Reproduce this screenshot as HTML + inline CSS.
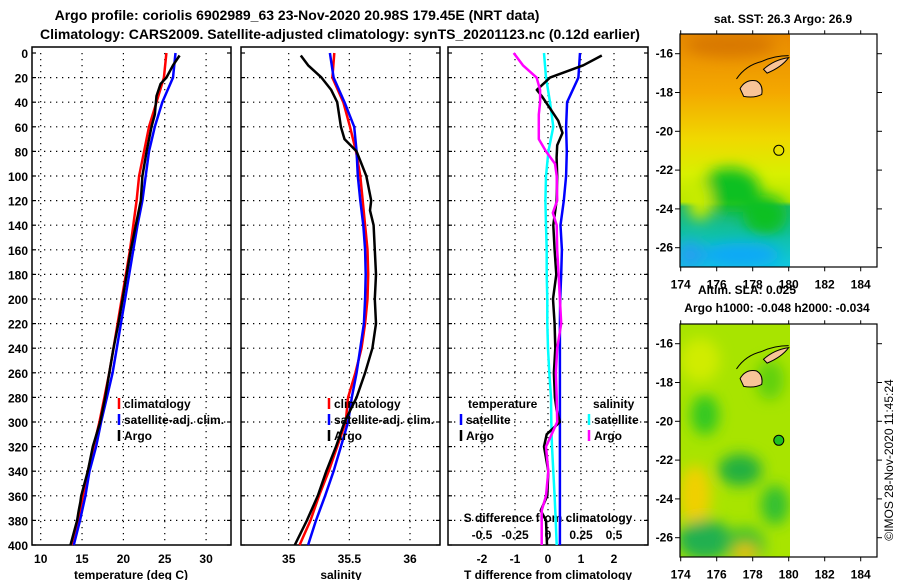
<!DOCTYPE html>
<html><head><meta charset="utf-8"><style>
html,body{margin:0;padding:0;background:#fff;}
svg{display:block;font-family:"Liberation Sans",sans-serif;font-weight:bold;}
</style></head><body>
<svg id="c" width="900" height="580" viewBox="0 0 900 580" xmlns="http://www.w3.org/2000/svg">
<defs>
<filter id="bl" x="-50%" y="-50%" width="200%" height="200%"><feGaussianBlur stdDeviation="7"/></filter>
<clipPath id="m1c"><rect x="680" y="34" width="110" height="233"/></clipPath>
<clipPath id="m2c"><rect x="680" y="324" width="110" height="233"/></clipPath>
<linearGradient id="sstg" x1="0" y1="0" x2="0" y2="1">
<stop offset="0" stop-color="#e88a00"/><stop offset="0.25" stop-color="#f4a800"/>
<stop offset="0.45" stop-color="#f0d800"/><stop offset="0.6" stop-color="#d8f000"/>
<stop offset="0.72" stop-color="#b8e800"/><stop offset="0.74" stop-color="#20b870"/>
<stop offset="0.85" stop-color="#10c0a0"/><stop offset="1" stop-color="#10c8e0"/>
</linearGradient>
</defs>
<g font-size="14">
<text x="297" y="20" text-anchor="middle">Argo profile: coriolis 6902989_63 23-Nov-2020 20.98S 179.45E (NRT data)</text>
<text x="340" y="39" text-anchor="middle">Climatology: CARS2009. Satellite-adjusted climatology: synTS_20201123.nc (0.12d earlier)</text>
</g>
<g id="panels"></g>

<g>
<text x="783" y="23" text-anchor="middle" font-size="12">sat. SST: 26.3 Argo: 26.9</text>
<g clip-path="url(#m1c)">
<rect x="680" y="34" width="110" height="233" fill="url(#sstg)"/>
<g filter="url(#bl)">
<ellipse cx="730" cy="190" rx="30" ry="22" fill="#10c020"/>
<ellipse cx="765" cy="215" rx="22" ry="20" fill="#10c020"/>
<ellipse cx="700" cy="200" rx="12" ry="20" fill="#c8ec00"/>
<ellipse cx="740" cy="255" rx="40" ry="12" fill="#10a8f8"/>
<ellipse cx="690" cy="255" rx="14" ry="14" fill="#20a0f0"/>
<ellipse cx="730" cy="45" rx="45" ry="12" fill="#d87800"/>
</g>
</g>
<rect x="680" y="34" width="197" height="233" fill="none" stroke="#000" stroke-width="1.2"/>
</g>

<g>
<text x="747" y="294" text-anchor="middle" font-size="12">Altim. SLA: 0.025</text>
<text x="777" y="312" text-anchor="middle" font-size="12">Argo h1000: -0.048 h2000: -0.034</text>
<g clip-path="url(#m2c)">
<rect x="680" y="324" width="110" height="233" fill="#a8e400"/>
<g filter="url(#bl)">
<ellipse cx="700" cy="360" rx="20" ry="22" fill="#d0ec00"/>
<ellipse cx="705" cy="415" rx="14" ry="20" fill="#30c820"/>
<ellipse cx="695" cy="495" rx="16" ry="30" fill="#f0d000"/>
<ellipse cx="740" cy="470" rx="22" ry="16" fill="#20b040"/>
<ellipse cx="775" cy="505" rx="14" ry="20" fill="#30c030"/>
<ellipse cx="705" cy="540" rx="28" ry="20" fill="#20b050"/>
<ellipse cx="745" cy="545" rx="20" ry="18" fill="#40c030"/>
<ellipse cx="745" cy="552" rx="12" ry="8" fill="#f0c000"/>
<ellipse cx="770" cy="380" rx="14" ry="20" fill="#60d010"/>
</g>
</g>
<rect x="680" y="324" width="197" height="233" fill="none" stroke="#000" stroke-width="1.2"/>
</g>
<text transform="translate(893,460) rotate(-90)" text-anchor="middle" font-size="12" font-weight="normal">©IMOS 28-Nov-2020 11:45:24</text>
</svg>
<script>
// ---- profile data ----
const depthStd = [0,20,40,60,80,100,120,140,160,180,200,220,240,260,280,300,320,340,360,380,400];
const climT = [25.2,24.9,24.0,23.1,22.5,21.9,21.6,21.2,20.8,20.3,19.8,19.3,18.8,18.3,17.7,17.1,16.4,15.7,15.1,14.5,13.7];
const satT = [26.3,26.0,24.7,23.8,23.1,22.7,22.3,21.7,21.2,20.7,20.2,19.7,19.2,18.7,18.0,17.3,16.7,15.9,15.4,14.75,14.0];
const argoTDepth = [2,10,20,25,35,50,60,80,100,120,140,160,180,200,220,240,260,280,300,320,340,360,365,372,380,400];
const argoT = [26.8,26.0,25.2,24.5,24.0,23.8,23.4,22.8,22.3,22.1,21.5,20.9,20.4,19.9,19.4,18.8,18.3,17.8,17.2,16.3,15.7,14.9,14.8,14.6,14.4,13.6];
const climS = [35.376,35.36,35.45,35.505,35.555,35.59,35.61,35.63,35.65,35.655,35.65,35.63,35.60,35.55,35.49,35.47,35.40,35.33,35.25,35.18,35.09];
const satS = [35.34,35.37,35.46,35.54,35.56,35.57,35.59,35.615,35.63,35.635,35.63,35.62,35.59,35.56,35.52,35.49,35.43,35.37,35.30,35.225,35.16];
const argoSDepth = [2,10,20,30,40,60,70,80,100,120,128,140,160,180,200,220,240,260,280,300,320,340,360,380,400];
const argoS = [35.10,35.16,35.27,35.35,35.40,35.43,35.46,35.56,35.64,35.68,35.67,35.70,35.71,35.72,35.71,35.72,35.69,35.63,35.56,35.46,35.39,35.31,35.24,35.15,35.05];
const satTdiff = [0.97,0.92,0.58,0.55,0.57,0.55,0.48,0.38,0.42,0.40,0.37,0.36,0.36,0.36,0.36,0.36,0.36,0.36,0.36,0.36,0.36];
const argoTdiffDepth = [2,10,20,25,30,35,45,55,65,75,85,100,120,140,160,180,200,220,240,260,280,290,300,310,320,340,360,372,380,400];
const argoTdiff = [1.63,1.07,0.06,-0.14,-0.34,-0.19,0.06,0.31,0.44,0.28,0.26,0.28,0.26,0.16,0.2,0.25,0.15,0.2,0.22,0.18,0.21,0.26,0.36,-0.04,-0.12,0.01,-0.02,-0.22,-0.06,-0.03];
const satSdiff = [-0.03,-0.015,0.015,0.04,0.003,-0.015,-0.02,-0.015,-0.01,-0.01,-0.005,-0.005,0.0,0.01,0.023,0.025,0.03,0.04,0.05,0.058,0.066];
const argoSdiffDepth = [0,10,20,30,40,50,60,70,80,90,100,120,130,140,160,180,200,220,240,260,280,300,310,320,340,360,372,400];
const argoSdiff = [-0.26,-0.19,-0.086,-0.06,-0.06,-0.07,-0.07,-0.07,-0.015,0.053,0.066,0.07,0.036,0.066,0.07,0.08,0.09,0.1,0.07,0.06,0.066,0.07,0.028,-0.015,0.002,-0.015,-0.048,-0.048];
const depthTicks = [0,20,40,60,80,100,120,140,160,180,200,220,240,260,280,300,320,340,360,380,400];
const tTicks = [10,15,20,25,30];
const sTicks = [35,35.5,36];
const dTTicks = [-2,-1,0,1,2];
const dSTicks = [-0.5,-0.25,0,0.25,0.5];
const dSTickLabels = ['-0.5','-0.25','0','0.25','0.5'];
// map data
const mapLonTicks = [174,176,178,180,182,184];
const mapLatTicks = [-16,-18,-20,-22,-24,-26];
const floatLon = 179.45, floatLat = -20.98;

const NS='http://www.w3.org/2000/svg';
const svg=document.getElementById('c');
const G=document.getElementById('panels');
function el(tag,attrs,parent){const e=document.createElementNS(NS,tag);for(const k in attrs)e.setAttribute(k,attrs[k]);(parent||G).appendChild(e);return e;}
const yD=d=>53+d*1.23;
const xT=t=>40.7+(t-10)*8.27;
const xS=s=>288.7+(s-35)*121.3;
const xDT=t=>548+t*33;
const xDS=s=>548+s*132;

function frame(x0,x1,name,vticks,xf,labels,labY){
  const g=el('g',{});
  
  
  depthTicks.forEach(d=>{ if(d>0&&d<400) el('line',{x1:x0,x2:x1,y1:yD(d),y2:yD(d),stroke:'#000','stroke-width':1.2,'stroke-dasharray':'1.3 4.7'},g);
    el('line',{x1:x0,x2:x0+4,y1:yD(d),y2:yD(d),stroke:'#000','stroke-width':1.2},g);
    el('line',{x1:x1-4,x2:x1,y1:yD(d),y2:yD(d),stroke:'#000','stroke-width':1.2},g);});
  vticks.forEach((v,i)=>{const x=xf(v);
    el('line',{x1:x,x2:x,y1:53,y2:545,stroke:'#000','stroke-width':1.2,'stroke-dasharray':'1.3 4.7'},g);
    if(labels){const t=el('text',{x:x,y:labY,'text-anchor':'middle','font-size':12},g);t.textContent=labels[i];}
  });
  el('rect',{x:x0,y:47,width:x1-x0,height:498,fill:'none',stroke:'#000','stroke-width':1.5},g);
  return g;
}
function line(xs,ds,xf,color,w,name){
  const pts=xs.map((v,i)=>xf(v).toFixed(1)+','+yD(ds[i]).toFixed(1)).join(' ');
  const p=el('polyline',{points:pts,fill:'none',stroke:color,'stroke-width':w,'stroke-linejoin':'round'});
  
  
}
function txt(x,y,s,opts){const t=el('text',Object.assign({x:x,y:y,'font-size':12},opts||{}));t.textContent=s;return t;}
function leg(x,y,color,label,name){
  const g=el('g',{});
  
  
  el('line',{x1:x,x2:x,y1:y-10,y2:y+1,stroke:color,'stroke-width':2.5},g);
  const t=el('text',{x:x+5,y:y,'font-size':12},g);t.textContent=label;
}

// panel 1
frame(32,231,'temperature-panel',tTicks,xT,tTicks.map(String),563);
depthTicks.forEach(d=>{const t=txt(28,yD(d)+5,String(d),{'text-anchor':'end'});});
txt(131,579,'temperature (deg C)',{'text-anchor':'middle'});
line(climT,depthStd,xT,'#f00',2.5,'temp-climatology-line');
line(satT,depthStd,xT,'#00f',2.5,'temp-satellite-line');
line(argoT,argoTDepth,xT,'#000',2.5,'temp-argo-line');
leg(119,408,'#f00','climatology','legend-climatology');
leg(119,424,'#00f','satellite-adj. clim.','legend-satellite');
leg(119,440,'#000','Argo','legend-argo');

// panel 2
frame(241,440,'salinity-panel',sTicks,xS,['35','35.5','36'],563);
txt(341,579,'salinity',{'text-anchor':'middle'});
line(climS,depthStd,xS,'#f00',2.5,'sal-climatology-line');
line(satS,depthStd,xS,'#00f',2.5,'sal-satellite-line');
line(argoS,argoSDepth,xS,'#000',2.5,'sal-argo-line');
leg(329,408,'#f00','climatology','legend-climatology-2');
leg(329,424,'#00f','satellite-adj. clim.','legend-satellite-2');
leg(329,440,'#000','Argo','legend-argo-2');

// panel 3
frame(448,648,'difference-panel',dTTicks,xDT,dTTicks.map(String),563);
txt(548,579,'T difference from climatology',{'text-anchor':'middle'});
txt(548,522,'S difference from climatology',{'text-anchor':'middle'});
dSTicks.forEach((v,i)=>{const t=txt(xDS(v),539,dSTickLabels[i],{'text-anchor':'middle'});});
line(satSdiff,depthStd,xDS,'#0ff',2.5,'sdiff-satellite-line');
line(satTdiff,depthStd,xDT,'#00f',2.5,'tdiff-satellite-line');
line(argoTdiff,argoTdiffDepth,xDT,'#000',2.5,'tdiff-argo-line');
line(argoSdiff,argoSdiffDepth,xDS,'#f0f',2.5,'sdiff-argo-line');
txt(468,408,'temperature');
leg(461,424,'#00f','satellite','legend-t-satellite');
leg(461,440,'#000','Argo','legend-t-argo');
txt(593,408,'salinity');
leg(589,424,'#0ff','satellite','legend-s-satellite');
leg(589,440,'#f0f','Argo','legend-s-argo');

// maps
function mapAxes(top,name){
  const g=el('g',{},svg);
  
  
  const xL=lon=>680.7+(lon-174)*18;
  const yL=lat=>top+(-15-lat)*19.4;
  mapLonTicks.forEach(l=>{const x=xL(l);
    el('line',{x1:x,x2:x,y1:top-4,y2:top,stroke:'#000'},g);
    el('line',{x1:x,x2:x,y1:top+233,y2:top+237,stroke:'#000'},g);
    const t=el('text',{x:x,y:top+254,'text-anchor':'middle','font-size':12},g);t.textContent=String(l);});
  mapLatTicks.forEach(l=>{const y=yL(l);
    el('line',{x1:675,x2:680,y1:y,y2:y,stroke:'#000'},g);
    el('line',{x1:877,x2:882,y1:y,y2:y,stroke:'#000'},g);
    const t=el('text',{x:673,y:y+4,'text-anchor':'end','font-size':12},g);t.textContent=String(l);});
  // islands (Fiji)
  el('path',{d:`M${xL(177.3)} ${yL(-17.8)} Q${xL(177.6)} ${yL(-17.3)} ${xL(178.2)} ${yL(-17.4)} Q${xL(178.6)} ${yL(-17.6)} ${xL(178.5)} ${yL(-18.1)} Q${xL(178.1)} ${yL(-18.3)} ${xL(177.5)} ${yL(-18.2)} Z`,fill:'#f8c498',stroke:'#000','stroke-width':1},g);
  el('path',{d:`M${xL(178.6)} ${yL(-16.8)} Q${xL(179.2)} ${yL(-16.3)} ${xL(180.0)} ${yL(-16.2)} Q${xL(179.6)} ${yL(-16.7)} ${xL(178.8)} ${yL(-17.0)} Z`,fill:'#f8c498',stroke:'#000','stroke-width':1},g);
  el('path',{d:`M${xL(177.1)} ${yL(-17.3)} Q${xL(177.6)} ${yL(-16.6)} ${xL(178.5)} ${yL(-16.4)} Q${xL(179.2)} ${yL(-16.1)} ${xL(180.0)} ${yL(-16.1)}`,fill:'none',stroke:'#000','stroke-width':1},g);
  const c=el('circle',{cx:xL(floatLon),cy:yL(floatLat),r:5,fill:top>300?'#20c020':'none',stroke:'#000','stroke-width':1},g);
  
  
}
mapAxes(34.3,'sst-map-axes');
mapAxes(324.3,'sla-map-axes');
</script>
</body></html>
